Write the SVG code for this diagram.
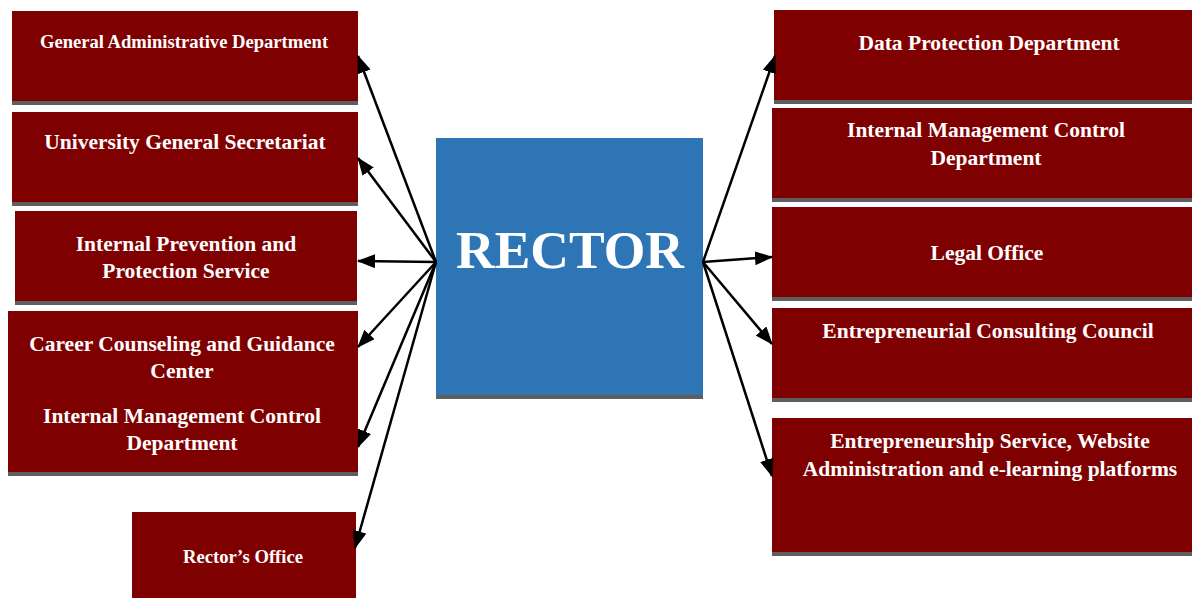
<svg xmlns="http://www.w3.org/2000/svg" width="1192" height="598" viewBox="0 0 1192 598">
  <style>
    .box { fill: #7f0000; }
    .bar { fill: #5e5e5e; }
    .lbl { font-family: "Liberation Serif", "Times New Roman", serif; font-weight: bold; fill: #ffffff; text-anchor: middle; }
    .s21 { font-size: 21.5px; }
    .s18 { font-size: 18.6px; }
    .conn { stroke: #000000; stroke-width: 2.5; fill: none; marker-end: url(#head); }
  </style>
  <defs>
    <marker id="head" markerUnits="userSpaceOnUse" markerWidth="18" markerHeight="14" refX="17" refY="7" orient="auto">
      <path d="M0,0 L18,7 L0,14 z" fill="#000000"/>
    </marker>
  </defs>
  <rect width="1192" height="598" fill="#ffffff"/>

  <!-- central node -->
  <g id="rector">
    <rect class="bar" x="436" y="140" width="267" height="259"/>
    <rect x="436" y="138" width="267" height="257" fill="#2e75b6"/>
    <text class="lbl" x="570" y="268" font-size="53.5">RECTOR</text>
  </g>

  <!-- left column -->
  <g id="general-administrative">
    <rect class="bar" x="12" y="13" width="346" height="92"/>
    <rect class="box" x="12" y="11" width="346" height="90"/>
    <text class="lbl s18" x="184" y="48">General Administrative Department</text>
  </g>
  <g id="general-secretariat">
    <rect class="bar" x="12" y="114" width="346" height="92"/>
    <rect class="box" x="12" y="112" width="346" height="90"/>
    <text class="lbl s21" x="185" y="149">University General Secretariat</text>
  </g>
  <g id="prevention-protection">
    <rect class="bar" x="15" y="213" width="342" height="92"/>
    <rect class="box" x="15" y="211" width="342" height="90"/>
    <text class="lbl s21" x="186" y="251">Internal Prevention and</text>
    <text class="lbl s21" x="186" y="278">Protection Service</text>
  </g>
  <g id="career-counseling">
    <rect class="bar" x="8" y="313" width="350" height="163"/>
    <rect class="box" x="8" y="311" width="350" height="161"/>
    <text class="lbl s21" x="182" y="351">Career Counseling and Guidance</text>
    <text class="lbl s21" x="182" y="378">Center</text>
    <text class="lbl s21" x="182" y="423">Internal Management Control</text>
    <text class="lbl s21" x="182" y="450">Department</text>
  </g>
  <g id="rectors-office">
    <rect class="box" x="132" y="512" width="224" height="90"/>
    <text class="lbl s18" x="243" y="563">Rector’s Office</text>
  </g>

  <!-- right column -->
  <g id="data-protection">
    <rect class="bar" x="774" y="12" width="420" height="92"/>
    <rect class="box" x="774" y="10" width="420" height="90"/>
    <text class="lbl s21" x="989" y="50">Data Protection Department</text>
  </g>
  <g id="internal-management-control">
    <rect class="bar" x="772" y="110" width="422" height="92"/>
    <rect class="box" x="772" y="108" width="422" height="90"/>
    <text class="lbl s21" x="986" y="137">Internal Management Control</text>
    <text class="lbl s21" x="986" y="165">Department</text>
  </g>
  <g id="legal-office">
    <rect class="bar" x="772" y="209" width="422" height="92"/>
    <rect class="box" x="772" y="207" width="422" height="90"/>
    <text class="lbl s21" x="987" y="260">Legal Office</text>
  </g>
  <g id="consulting-council">
    <rect class="bar" x="772" y="310" width="422" height="92"/>
    <rect class="box" x="772" y="308" width="422" height="90"/>
    <text class="lbl s21" x="988" y="338">Entrepreneurial Consulting Council</text>
  </g>
  <g id="entrepreneurship-service">
    <rect class="bar" x="772" y="420" width="422" height="136"/>
    <rect class="box" x="772" y="418" width="422" height="134"/>
    <text class="lbl s21" x="990" y="448">Entrepreneurship Service, Website</text>
    <text class="lbl s21" x="990" y="476">Administration and e-learning platforms</text>
  </g>

  <!-- connectors -->
  <g id="connectors">
    <line class="conn" x1="436" y1="262" x2="358" y2="56"/>
    <line class="conn" x1="436" y1="262" x2="358" y2="158"/>
    <line class="conn" x1="436" y1="262" x2="358" y2="261"/>
    <line class="conn" x1="436" y1="262" x2="358" y2="347"/>
    <line class="conn" x1="436" y1="262" x2="358" y2="447"/>
    <line class="conn" x1="436" y1="262" x2="355" y2="548"/>
    <line class="conn" x1="703" y1="262" x2="775" y2="56"/>
    <line class="conn" x1="703" y1="262" x2="772" y2="257"/>
    <line class="conn" x1="703" y1="262" x2="772" y2="344"/>
    <line class="conn" x1="703" y1="262" x2="772" y2="476"/>
  </g>
</svg>
